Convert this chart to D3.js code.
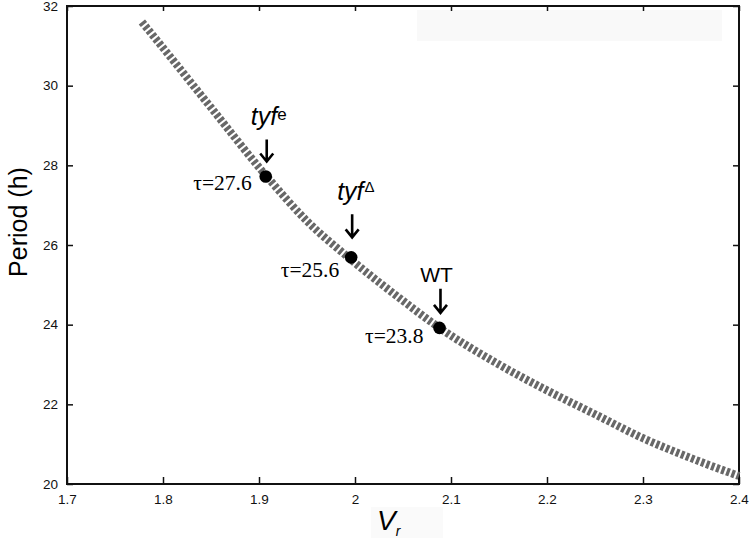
<!DOCTYPE html>
<html>
<head>
<meta charset="utf-8">
<script src="https://cdn.jsdelivr.net/npm/d3@7"></script>
<style>
  body { margin: 0; background: #fff; }
  .tick text { font-family: "Liberation Sans", Arial, sans-serif; font-size: 13.5px; fill: #111; }
</style>
</head>
<body>
<svg id="chart"></svg>
<script>
// curve: period vs v_r
var curveVr     = [1.778, 1.8, 1.85, 1.907, 1.95, 1.995, 2.05, 2.088, 2.15, 2.2, 2.25, 2.3, 2.35, 2.4];
var curvePeriod = [31.6, 30.95, 29.45, 27.75, 26.6, 25.65, 24.6, 23.92, 23.0, 22.35, 21.75, 21.15, 20.65, 20.2];

// marked strains
var strainNames  = ["tyf", "tyf", "WT"];
var strainSup    = ["e", "\u0394", ""];
var strainVr     = [1.907, 1.996, 2.088];
var strainPeriod = [27.72, 25.69, 23.92];
var strainTau    = ["\u03c4=27.6", "\u03c4=25.6", "\u03c4=23.8"];

var xTicks = [1.7, 1.8, 1.9, 2.0, 2.1, 2.2, 2.3, 2.4];
var yTicks = [20, 22, 24, 26, 28, 30, 32];

// label offsets from each dot (layout only)
var annot = [
  {nameDx: -15, nameDy: -51, arrowTop: -37, arrowTip: -15, tauDx: -14, tauDy: 14},
  {nameDx: -14, nameDy: -57, arrowTop: -43, arrowTip: -20, tauDx: -12, tauDy: 20},
  {nameDx: -3,  nameDy: -46, arrowTop: -39, arrowTip: -15, tauDx: -16, tauDy: 15}
];

var screen = {width: 751, height: 538};
var margins = {top: 6, left: 67, right: 12, bottom: 54};
var graph = {
  width: screen.width - margins.left - margins.right,
  height: screen.height - margins.top - margins.bottom
};

var svg = d3.select("#chart")
  .attr("width", screen.width)
  .attr("height", screen.height);

// faint leftover boxes in the scan
svg.append("rect").attr("x", 417).attr("y", 10).attr("width", 305).attr("height", 31).attr("fill", "#f9f9f9");
svg.append("rect").attr("x", 371).attr("y", 507).attr("width", 72).attr("height", 31).attr("fill", "#fafafa");

var xScale = d3.scaleLinear().domain([1.7, 2.4]).range([0, graph.width]);
var yScale = d3.scaleLinear().domain([20, 32]).range([graph.height, 0]);

var g = svg.append("g")
  .attr("transform", "translate(" + margins.left + "," + margins.top + ")");

var fmt = function(d) { return String(+d.toFixed(1)); };

var axisStyle = function(sel) {
  sel.select(".domain").remove();
  sel.selectAll(".tick line").attr("stroke", "#111").attr("stroke-width", 1.5);
};

g.append("g")
  .attr("transform", "translate(0," + graph.height + ")")
  .call(d3.axisBottom(xScale).tickValues(xTicks).tickFormat(fmt).tickSize(-7).tickPadding(10))
  .call(axisStyle);
g.append("g")
  .call(d3.axisTop(xScale).tickValues(xTicks).tickFormat("").tickSize(-5))
  .call(axisStyle);
g.append("g")
  .call(d3.axisLeft(yScale).tickValues(yTicks).tickFormat(fmt).tickSize(-6).tickPadding(9))
  .call(axisStyle);
g.append("g")
  .attr("transform", "translate(" + graph.width + ",0)")
  .call(d3.axisRight(yScale).tickValues(yTicks).tickFormat("").tickSize(-6))
  .call(axisStyle);

g.append("rect")
  .attr("width", graph.width)
  .attr("height", graph.height)
  .attr("fill", "none")
  .attr("stroke", "#111")
  .attr("stroke-width", 2);

var curve = curveVr.map(function(v, i) { return [v, curvePeriod[i]]; });
var line = d3.line()
  .x(function(d) { return xScale(d[0]); })
  .y(function(d) { return yScale(d[1]); })
  .curve(d3.curveMonotoneX);

g.append("path")
  .datum(curve)
  .attr("d", line)
  .attr("fill", "none")
  .attr("stroke", "#686868")
  .attr("stroke-width", 8)
  .attr("stroke-dasharray", "3.3,2.1");

var strains = strainNames.map(function(n, i) {
  return {name: n, sup: strainSup[i], vr: strainVr[i], p: strainPeriod[i], tau: strainTau[i], a: annot[i]};
});

var marks = g.selectAll(".strain")
  .data(strains)
  .enter()
  .append("g")
  .classed("strain", true)
  .attr("transform", function(d) { return "translate(" + xScale(d.vr) + "," + yScale(d.p) + ")"; });

marks.append("circle").attr("r", 6.3).attr("fill", "#000");

marks.append("path")
  .attr("d", function(d) {
    return "M1," + d.a.arrowTop + "V" + d.a.arrowTip +
      "M-5.5," + (d.a.arrowTip - 8) + "L1," + d.a.arrowTip + "L7.5," + (d.a.arrowTip - 8);
  })
  .attr("fill", "none")
  .attr("stroke", "#000")
  .attr("stroke-width", 2.6);

marks.append("text")
  .attr("x", function(d) { return d.a.tauDx; })
  .attr("y", function(d) { return d.a.tauDy; })
  .attr("text-anchor", "end")
  .attr("font-family", "Liberation Serif, Times New Roman, serif")
  .attr("font-size", 21.5)
  .text(function(d) { return d.tau; });

var names = marks.append("text")
  .attr("x", function(d) { return d.a.nameDx; })
  .attr("y", function(d) { return d.a.nameDy; })
  .attr("font-family", "Liberation Sans, Arial, sans-serif")
  .attr("text-anchor", function(d) { return d.sup ? "start" : "middle"; })
  .attr("font-style", function(d) { return d.sup ? "italic" : "normal"; })
  .attr("font-size", function(d) { return d.sup ? 25 : 21; });
names.append("tspan").text(function(d) { return d.name; });
names.append("tspan")
  .attr("font-style", "normal")
  .attr("font-size", function(d) { return d.sup === "e" ? 17 : 15; })
  .attr("dx", function(d) { return d.sup === "e" ? 0 : 1; })
  .attr("dy", function(d) { return d.sup === "e" ? -5 : -8; })
  .text(function(d) { return d.sup; });

// axis titles
svg.append("text")
  .attr("transform", "translate(27,222) rotate(-90)")
  .attr("text-anchor", "middle")
  .attr("font-family", "Liberation Sans, Arial, sans-serif")
  .attr("font-size", 25)
  .text("Period (h)");

var xt = svg.append("text")
  .attr("x", 377)
  .attr("y", 530)
  .attr("font-family", "Liberation Sans, Arial, sans-serif")
  .attr("font-style", "italic")
  .attr("font-size", 28);
xt.append("tspan").text("V");
xt.append("tspan").attr("font-size", 14).attr("dy", 6).text("r");
</script>
</body>
</html>
